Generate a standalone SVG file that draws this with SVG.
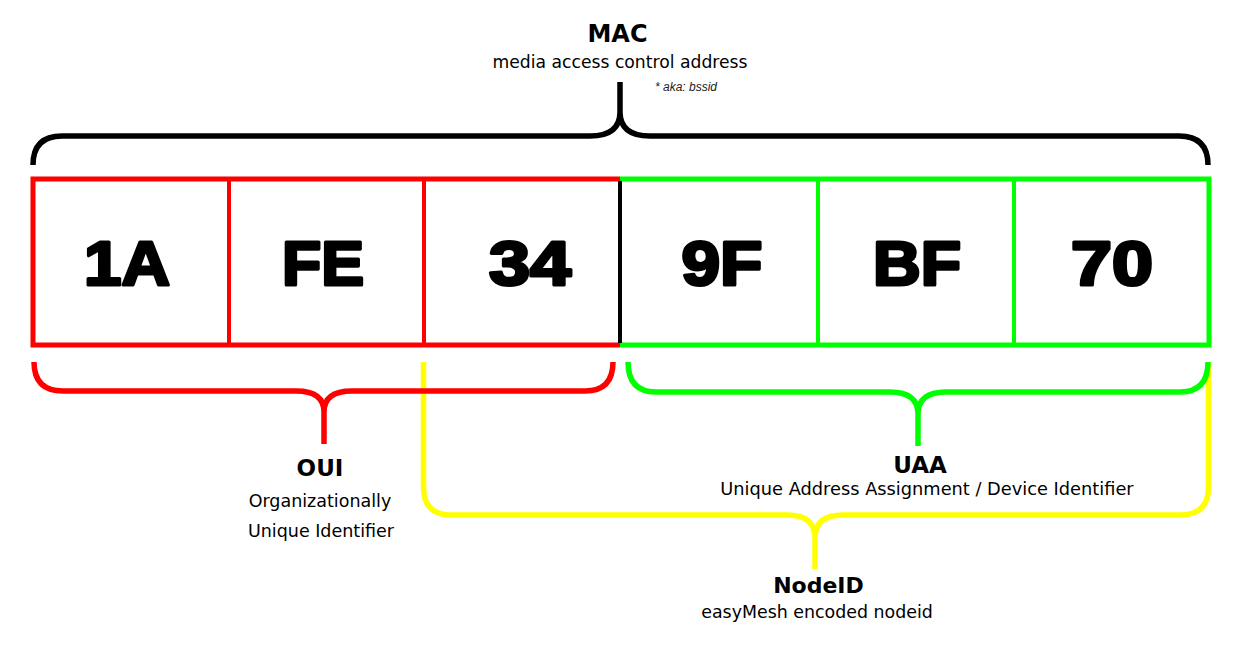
<svg xmlns="http://www.w3.org/2000/svg" width="1243" height="650" viewBox="0 0 1243 650">
<style>
.bg{fill:#ffffff}
.byte{font-family:"Liberation Sans",Arial,sans-serif;font-weight:bold;font-size:63px;fill:#000;stroke:#000;stroke-width:3.2px;stroke-linejoin:round;text-anchor:middle}
.title{font-family:"DejaVu Sans",Verdana,sans-serif;font-weight:bold;font-size:23px;fill:#000;text-anchor:middle}
.sub{font-family:"DejaVu Sans",Verdana,sans-serif;font-size:17.5px;fill:#000;text-anchor:middle}
.note{font-family:"Liberation Sans",Arial,sans-serif;font-style:italic;font-size:12px;fill:#222}
.brace{fill:none;stroke-width:5.5px;stroke-linecap:butt;stroke-linejoin:round}
.red{stroke:#ff0000}
.green{stroke:#00ff00}
.yellow{stroke:#ffff00}
.black{stroke:#000000}
.edge{fill:none;stroke-width:5px}
.div{fill:none;stroke-width:4px}
</style>
<rect class="bg" x="0" y="0" width="1243" height="650"/>

<g id="connectors">
  <path class="brace yellow" d="M423.5,362 L423.5,487 Q423.5,515 451,515 L787,515 Q815,515 815,538 Q815,515 843,515 L1180,515 Q1208.5,515 1208.5,487 L1208.5,362 M815,538 L815,569"/>
  <path class="brace black" d="M33,165 Q33,136 62,136 L590,136 Q620,136 620,112 Q620,136 650,136 L1179,136 Q1208,136 1208,165 M620,112 L620,82"/>
  <path class="brace red" d="M34,362 Q34,391 63,391 L296,391 Q324,391 324,412 Q324,391 352,391 L585,391 Q613,391 613,362 M324,412 L324,444"/>
  <path class="brace green" d="M628,362 Q628,392 656,392 L890,392 Q918,392 918,414 Q918,392 946,392 L1180,392 Q1208,392 1208,362 M918,414 L918,446"/>
</g>

<g id="address-box">
  <path class="edge red" d="M620,179 L33,179 L33,345 L620,345"/>
  <path class="edge green" d="M620,179 L1209,179 L1209,345 L620,345"/>
  <line class="div black" x1="620" y1="181" x2="620" y2="343"/>
</g>

<g id="byte-1A">
  <line class="div red" x1="229" y1="181" x2="229" y2="343"/>
  <text class="byte" x="127" y="285" textLength="86" lengthAdjust="spacingAndGlyphs">1A</text>
</g>
<g id="byte-FE">
  <line class="div red" x1="424" y1="181" x2="424" y2="343"/>
  <text class="byte" x="323" y="285" textLength="82" lengthAdjust="spacingAndGlyphs">FE</text>
</g>
<g id="byte-34">
  <text class="byte" x="530" y="285" textLength="82" lengthAdjust="spacingAndGlyphs">34</text>
</g>
<g id="byte-9F">
  <line class="div green" x1="818" y1="181" x2="818" y2="343"/>
  <text class="byte" x="722" y="285" textLength="81" lengthAdjust="spacingAndGlyphs">9F</text>
</g>
<g id="byte-BF">
  <line class="div green" x1="1014" y1="181" x2="1014" y2="343"/>
  <text class="byte" x="917" y="285" textLength="88" lengthAdjust="spacingAndGlyphs">BF</text>
</g>
<g id="byte-70">
  <text class="byte" x="1112" y="285" textLength="82" lengthAdjust="spacingAndGlyphs">70</text>
</g>

<g id="label-mac">
  <text class="title" x="617.5" y="42" style="font-size:24px">MAC</text>
  <text class="sub" x="620" y="68" style="font-size:17.2px">media access control address</text>
  <text class="note" x="655" y="91">* aka: bssid</text>
</g>
<g id="label-oui">
  <text class="title" x="320" y="476">OUI</text>
  <text class="sub" x="320" y="507">Organizationally</text>
  <text class="sub" x="321" y="537">Unique Identifier</text>
</g>
<g id="label-uaa">
  <text class="title" x="920" y="473">UAA</text>
  <text class="sub" x="927" y="495" style="font-size:17.8px">Unique Address Assignment / Device Identifier</text>
</g>
<g id="label-nodeid">
  <text class="title" x="818.5" y="593" style="font-size:22px">NodeID</text>
  <text class="sub" x="817" y="618" style="font-size:17.4px">easyMesh encoded nodeid</text>
</g>
</svg>
